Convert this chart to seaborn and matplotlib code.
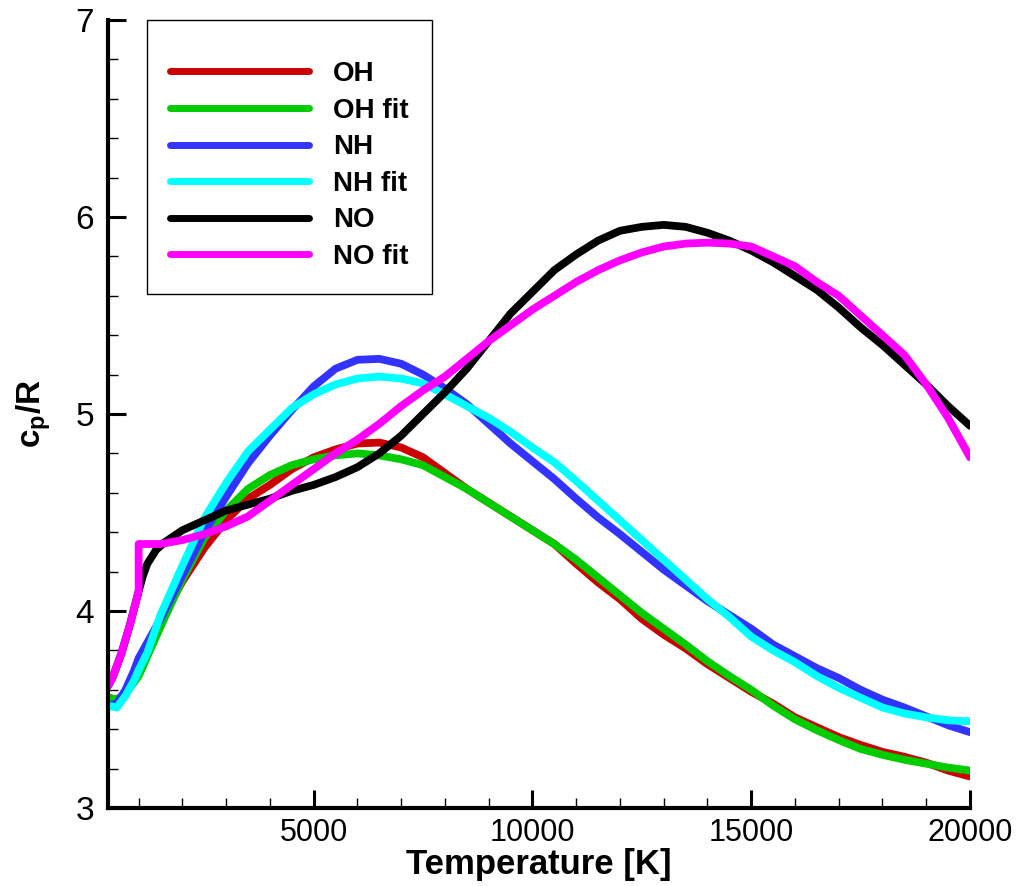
import numpy as np
import pandas as pd
import matplotlib
matplotlib.use("Agg")
import matplotlib.pyplot as plt
import seaborn as sns
from matplotlib.ticker import MultipleLocator

# temperature grids [K]
T_lo = [300, 500, 700, 1000, 1500, 2000, 2500, 3000, 3500, 4000, 4500, 5000,
        5500, 6000, 6500, 7000, 7500, 8000, 8500, 9000, 9500, 10000, 10500,
        11000, 11500, 12000, 12500, 13000, 13500, 14000, 14500, 15000, 15500,
        16000, 16500, 17000, 17500, 18000, 18500, 19000, 19500, 20000]

oh = [3.56, 3.55, 3.58, 3.68, 3.95, 4.15, 4.32, 4.46, 4.57, 4.64, 4.72, 4.78,
      4.82, 4.85, 4.855, 4.83, 4.78, 4.70, 4.62, 4.55, 4.48, 4.41, 4.34,
      4.24, 4.145, 4.06, 3.96, 3.88, 3.81, 3.73, 3.66, 3.59, 3.53,
      3.46, 3.41, 3.36, 3.32, 3.285, 3.26, 3.23, 3.19, 3.16]
oh_fit = [3.56, 3.55, 3.58, 3.67, 3.92, 4.16, 4.37, 4.51, 4.62, 4.69, 4.74, 4.77,
          4.79, 4.80, 4.79, 4.77, 4.74, 4.68, 4.62, 4.55, 4.48, 4.41, 4.34,
          4.26, 4.17, 4.08, 3.99, 3.91, 3.83, 3.745, 3.67, 3.60, 3.52,
          3.45, 3.395, 3.345, 3.30, 3.27, 3.245, 3.225, 3.205, 3.19]

T_nh = [300, 500, 700, 900, 1000, 1200, 1500, 2000, 2500, 3000, 3500, 4000, 4500,
        5000, 5500, 6000, 6500, 7000, 7500, 8000, 8500, 9000, 9500, 10000,
        10500, 11000, 11500, 12000, 12500, 13000, 13500, 14000, 14500, 15000,
        15500, 16000, 16500, 17000, 17500, 18000, 18500, 19000, 19500, 20000]
nh = [3.52, 3.53, 3.60, 3.70, 3.76, 3.84, 3.96, 4.18, 4.40, 4.58, 4.75, 4.89, 5.02,
      5.14, 5.23, 5.275, 5.28, 5.255, 5.20, 5.13, 5.05, 4.95, 4.85, 4.76,
      4.67, 4.57, 4.475, 4.39, 4.30, 4.21, 4.13, 4.05, 3.98, 3.91,
      3.83, 3.77, 3.71, 3.66, 3.60, 3.55, 3.51, 3.465, 3.42, 3.385]
nh_fit = [3.52, 3.51, 3.57, 3.65, 3.70, 3.79, 3.98, 4.23, 4.47, 4.65, 4.81, 4.92, 5.03,
          5.10, 5.15, 5.18, 5.19, 5.18, 5.155, 5.10, 5.04, 4.98, 4.91, 4.83,
          4.755, 4.66, 4.56, 4.46, 4.36, 4.26, 4.16, 4.06, 3.97, 3.87,
          3.80, 3.74, 3.67, 3.61, 3.56, 3.51, 3.48, 3.46, 3.445, 3.44]

T_no = [300, 400, 600, 800, 1000, 1100, 1200, 1400, 1600, 2000, 2500, 3000, 3500,
        4000, 4500, 5000, 5500, 6000, 6500, 7000, 7500, 8000, 8500, 9000,
        9500, 10000, 10500, 11000, 11500, 12000, 12500, 13000, 13500, 14000,
        14500, 15000, 15500, 16000, 16500, 17000, 17500, 18000, 18500, 19000,
        19500, 20000]
no = [3.62, 3.66, 3.78, 3.93, 4.10, 4.18, 4.24, 4.31, 4.35, 4.41, 4.46, 4.51, 4.54,
      4.57, 4.61, 4.64, 4.68, 4.73, 4.80, 4.89, 5.00, 5.11, 5.23, 5.37,
      5.51, 5.62, 5.73, 5.81, 5.88, 5.93, 5.95, 5.96, 5.95, 5.92,
      5.88, 5.83, 5.77, 5.70, 5.63, 5.54, 5.44, 5.35, 5.25, 5.15,
      5.04, 4.94]

# NO fit switches range at 1000 K (jump)
T_no_fit = [300, 400, 600, 800, 1000, 1000, 1500, 2000, 2500, 3000, 3500, 4000,
            4500, 5000, 5500, 6000, 6500, 7000, 7500, 8000, 8500, 9000, 9500,
            10000, 10500, 11000, 11500, 12000, 12500, 13000, 13500, 14000,
            14500, 15000, 15500, 16000, 16500, 17000, 17500, 18000, 18500,
            19000, 19500, 20000]
no_fit = [3.62, 3.66, 3.78, 3.93, 4.10, 4.34, 4.34, 4.36, 4.39, 4.43, 4.48, 4.56,
          4.64, 4.72, 4.80, 4.87, 4.95, 5.04, 5.12, 5.19, 5.28, 5.37, 5.45,
          5.53, 5.60, 5.67, 5.73, 5.78, 5.82, 5.85, 5.865, 5.87,
          5.865, 5.85, 5.80, 5.75, 5.67, 5.60, 5.50, 5.40, 5.30,
          5.15, 4.98, 4.78]

series = [
    ("OH", T_lo, oh, "#CC0000"),
    ("OH fit", T_lo, oh_fit, "#00CC00"),
    ("NH", T_nh, nh, "#3333FF"),
    ("NH fit", T_nh, nh_fit, "#00FFFF"),
    ("NO", T_no, no, "#000000"),
    ("NO fit", T_no_fit, no_fit, "#FF00FF"),
]

sns.set_theme(style="ticks")
plt.rcParams["font.family"] = ["Liberation Sans", "DejaVu Sans"]
plt.rcParams["mathtext.fontset"] = "custom"
plt.rcParams["mathtext.rm"] = "Liberation Sans:bold"
plt.rcParams["mathtext.bf"] = "Liberation Sans:bold"
for key in ["text.color", "axes.labelcolor", "xtick.color", "ytick.color"]:
    plt.rcParams[key] = "black"

fig = plt.figure(figsize=(10.28, 8.86), dpi=100)
ax = fig.add_axes([108 / 1028, 1 - 808 / 886, 862 / 1028, 788 / 886])

for name, t, v, col in series:
    df = pd.DataFrame({"T": t, "cp": v})
    sns.lineplot(data=df, x="T", y="cp", ax=ax, color=col, lw=5.6,
                 estimator=None, sort=False, label=name)

ax.set_xlim(300, 20000)
ax.set_ylim(3, 7)
ax.xaxis.set_major_locator(MultipleLocator(5000))
ax.xaxis.set_minor_locator(MultipleLocator(1000))
ax.yaxis.set_major_locator(MultipleLocator(1))
ax.yaxis.set_minor_locator(MultipleLocator(0.2))

sns.despine(ax=ax)
for s in ["left", "bottom"]:
    ax.spines[s].set_linewidth(3)
    ax.spines[s].set_color("black")

ax.tick_params(which="major", direction="in", length=13, width=2.2, color="black")
ax.tick_params(which="minor", direction="in", length=7, width=1, color="black")
ax.tick_params(axis="y", labelsize=24, pad=10)
ax.tick_params(axis="x", labelsize=22, pad=7)

ax.set_xlabel("Temperature [K]", fontsize=25, fontweight="bold", labelpad=0)
ax.set_ylabel(r"c$_\mathregular{p}$/R", fontsize=24, fontweight="bold", labelpad=16)

leg = ax.legend(loc="upper left", bbox_to_anchor=(0.045, 1.0), borderaxespad=0,
                frameon=True, fancybox=False, edgecolor="black", framealpha=1,
                fontsize=20, handlelength=5.0, handletextpad=0.85,
                labelspacing=0.38, borderpad=0.85, title=" ", title_fontsize=6)
leg.get_frame().set_linewidth(1.0)
for txt in leg.get_texts():
    txt.set_fontweight("bold")
for ln in leg.get_lines():
    ln.set_linewidth(5)

fig.savefig("out.png", dpi=100)
